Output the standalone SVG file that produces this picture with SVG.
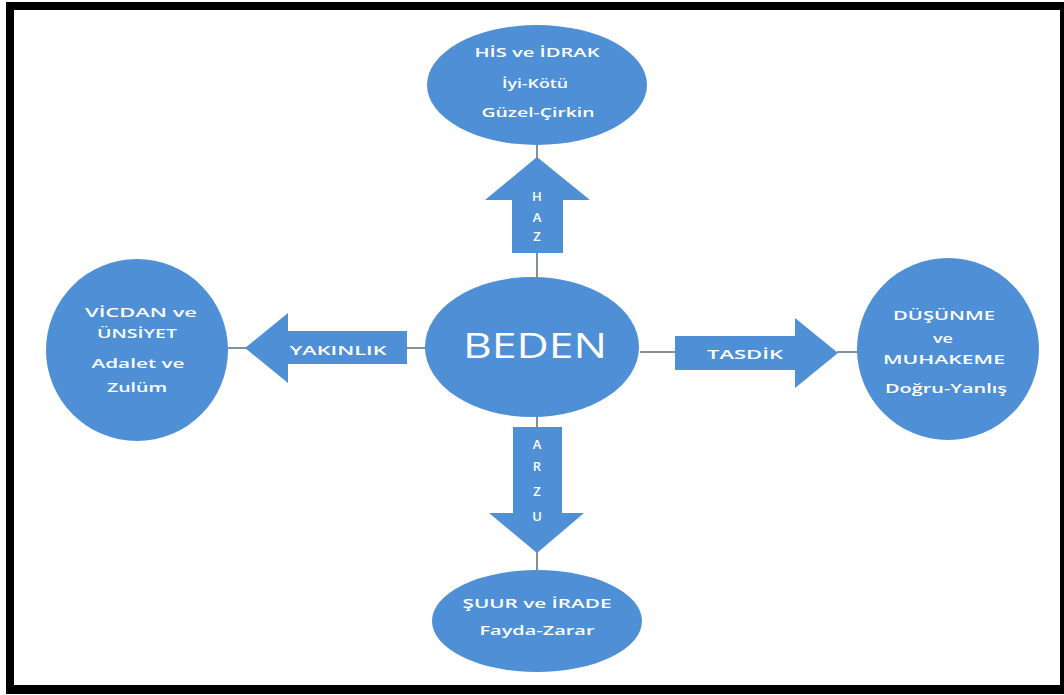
<svg xmlns="http://www.w3.org/2000/svg" width="1064" height="695" viewBox="0 0 1064 695">
<style>
.n{fill:#4E8FD6}
.t{fill:#ffffff;font-family:"Open Sans","Liberation Sans",sans-serif;font-size:13px;font-weight:600;text-anchor:middle}
.c{stroke:#5d6b78;stroke-width:1.5;fill:none}
.a{fill:#4E8FD6}
</style>
<rect x="6" y="2" width="1058" height="692" fill="#000"/>
<rect x="14" y="10" width="1046" height="675" fill="#fff"/>
<g id="connectors">
<line class="c" x1="537" y1="145" x2="537" y2="158"/>
<line class="c" x1="537" y1="252" x2="537" y2="278"/>
<line class="c" x1="537" y1="416" x2="537" y2="428"/>
<line class="c" x1="537" y1="552" x2="537" y2="570"/>
<line class="c" x1="228" y1="348" x2="246" y2="348"/>
<line class="c" x1="406" y1="348" x2="426" y2="348"/>
<line class="c" x1="640" y1="352" x2="676" y2="352"/>
<line class="c" x1="837" y1="352" x2="858" y2="352"/>
<polygon class="a" points="537,157 590,200 563,200 563,253 512,253 512,200 485,200"/>
<text class="t" x="537" y="201">H</text>
<text class="t" x="537" y="222">A</text>
<text class="t" x="537" y="241">Z</text>
<polygon class="a" points="513,427 562,427 562,513 584,513 537,553 489,513 513,513"/>
<text class="t" x="537" y="449">A</text>
<text class="t" x="537" y="471">R</text>
<text class="t" x="537" y="496">Z</text>
<text class="t" x="537" y="521">U</text>
<polygon class="a" points="245,348 288,313 288,331 407,331 407,364 288,364 288,383"/>
<text class="t" x="338" y="355" textLength="97" lengthAdjust="spacingAndGlyphs">YAKINLIK</text>
<polygon class="a" points="675,336 795,336 795,318 838,353 795,388 795,370 675,370"/>
<text class="t" x="745" y="359" textLength="76" lengthAdjust="spacingAndGlyphs">TASDİK</text>
</g>
<g id="top">
<ellipse class="n" cx="537" cy="85" rx="110" ry="60"/>
<text class="t" x="537" y="57" textLength="125" lengthAdjust="spacingAndGlyphs">HİS ve İDRAK</text>
<text class="t" x="535" y="88" textLength="66" lengthAdjust="spacingAndGlyphs">İyi-Kötü</text>
<text class="t" x="538" y="117" textLength="113" lengthAdjust="spacingAndGlyphs">Güzel-Çirkin</text>
</g>
<g id="center">
<ellipse class="n" cx="532" cy="347" rx="107" ry="70"/>
<text class="t" x="535" y="358" textLength="144" lengthAdjust="spacingAndGlyphs" style="font-size:35px;font-weight:400">BEDEN</text>
</g>
<g id="left">
<circle class="n" cx="137" cy="350" r="91"/>
<text class="t" x="141" y="317" textLength="112" lengthAdjust="spacingAndGlyphs">VİCDAN ve</text>
<text class="t" x="137" y="338" textLength="80" lengthAdjust="spacingAndGlyphs">ÜNSİYET</text>
<text class="t" x="138" y="368" textLength="93" lengthAdjust="spacingAndGlyphs">Adalet ve</text>
<text class="t" x="137" y="392" textLength="60" lengthAdjust="spacingAndGlyphs">Zulüm</text>
</g>
<g id="right">
<circle class="n" cx="948" cy="349" r="91"/>
<text class="t" x="944" y="320" textLength="102" lengthAdjust="spacingAndGlyphs">DÜŞÜNME</text>
<text class="t" x="943" y="343" textLength="20" lengthAdjust="spacingAndGlyphs">ve</text>
<text class="t" x="944" y="364" textLength="122" lengthAdjust="spacingAndGlyphs">MUHAKEME</text>
<text class="t" x="946" y="393" textLength="122" lengthAdjust="spacingAndGlyphs">Doğru-Yanlış</text>
</g>
<g id="bottom">
<ellipse class="n" cx="537" cy="621" rx="105" ry="51"/>
<text class="t" x="537" y="608" textLength="149" lengthAdjust="spacingAndGlyphs">ŞUUR ve İRADE</text>
<text class="t" x="537" y="635" textLength="115" lengthAdjust="spacingAndGlyphs">Fayda-Zarar</text>
</g>
</svg>
